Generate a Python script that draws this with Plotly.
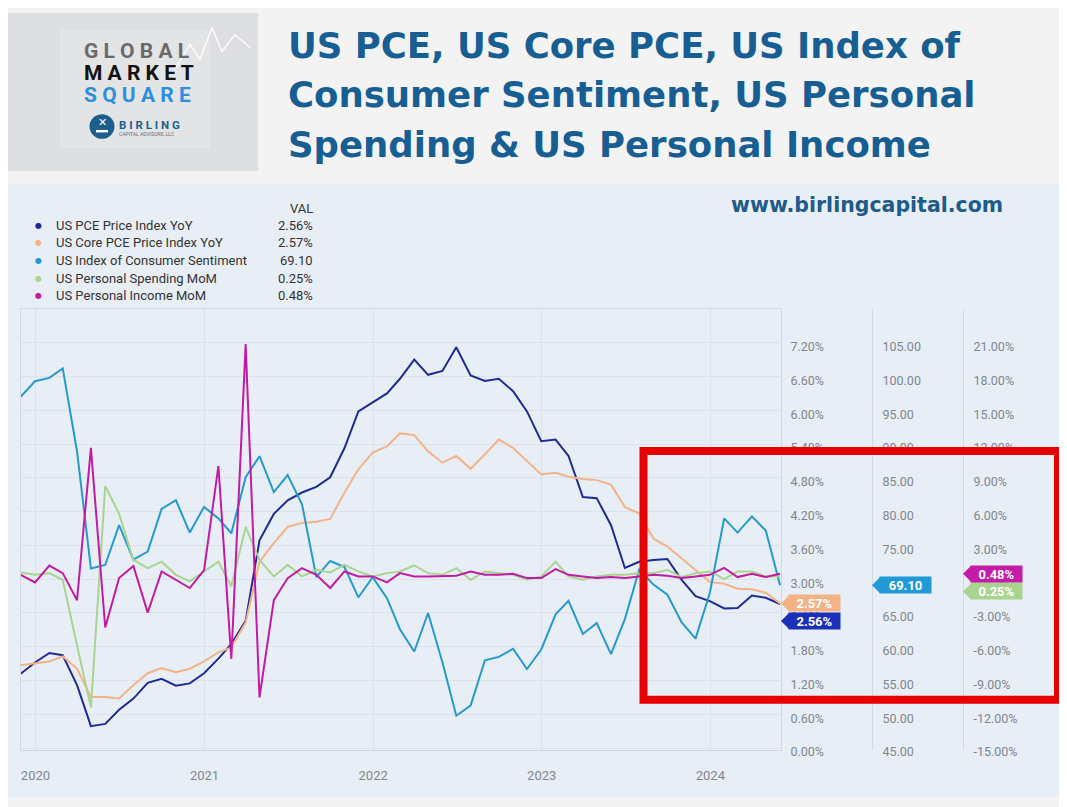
import plotly.graph_objects as go
import pandas as pd

# page is 1067x807; the html body has an 8px margin, so the figure is 8px smaller
OFF = 8
W, H = 1067 - OFF, 807 - OFF

# ---------------- data ----------------
months = pd.date_range("2019-11-30", periods=55, freq=pd.offsets.MonthEnd())

pce_yoy = [1.32, 1.52, 1.69, 1.65, 1.12, 0.39, 0.43, 0.68, 0.88, 1.16,
           1.23, 1.11, 1.15, 1.33, 1.59, 1.85, 2.26, 3.69, 4.16, 4.40,
           4.54, 4.64, 4.81, 5.33, 5.98, 6.14, 6.30, 6.56, 6.90, 6.63,
           6.70, 7.12, 6.62, 6.52, 6.56, 6.34, 5.98, 5.45, 5.48, 5.19,
           4.46, 4.44, 3.96, 3.20, 3.31, 3.34, 3.36, 2.99, 2.70, 2.61,
           2.48, 2.49, 2.71, 2.67, 2.56]

core_pce_yoy = [1.47, 1.50, 1.54, 1.63, 1.41, 0.91, 0.91, 0.88, 1.12, 1.33,
                1.42, 1.35, 1.41, 1.54, 1.70, 1.79, 2.23, 3.31, 3.64, 3.93,
                4.00, 4.02, 4.07, 4.54, 4.95, 5.25, 5.36, 5.59, 5.56, 5.27,
                5.07, 5.19, 4.96, 5.22, 5.48, 5.33, 5.10, 4.86, 4.89, 4.82,
                4.78, 4.76, 4.68, 4.28, 4.17, 3.72, 3.58, 3.37, 3.17, 2.95,
                2.92, 2.83, 2.82, 2.76, 2.57]

sentiment = [97.0, 99.3, 99.8, 101.2, 88.9, 71.6, 72.1, 78.0, 72.9, 74.1,
             80.4, 81.7, 76.9, 80.7, 79.0, 76.8, 85.1, 88.2, 82.9, 85.4,
             81.1, 70.3, 72.7, 71.8, 67.3, 70.3, 67.2, 62.6, 59.3, 65.0,
             57.7, 49.8, 51.3, 58.0, 58.5, 59.7, 56.7, 59.6, 64.8, 66.8,
             61.9, 63.5, 58.9, 64.1, 71.4, 69.2, 67.7, 63.6, 61.2, 68.0,
             79.0, 76.9, 79.3, 77.2, 69.1]

spending_mom = [0.60, 0.39, 0.54, -0.05, -5.90, -11.40, 8.29, 5.81, 1.71, 0.98,
                1.56, 0.39, -0.19, 0.69, 1.56, -0.63, 4.64, 1.71, 0.25, 1.27,
                0.25, 0.83, 0.60, 1.27, 0.69, 0.25, 0.54, 0.69, 1.22, 0.54,
                0.39, 0.98, -0.05, 0.69, 0.54, 0.39, -0.05, 0.25, 1.56, 0.25,
                -0.05, 0.25, 0.39, 0.39, 0.54, 0.54, 0.83, 0.19, 0.54, 0.69,
                0.00, 0.69, 0.69, 0.25, 0.25]

income_mom = [0.39, -0.28, 1.21, 0.54, -1.86, 11.67, -4.29, 0.10, 1.18, -2.97,
              0.69, -0.05, -0.78, 0.80, 10.05, -7.07, 20.88, -10.50, -1.86, 0.10,
              0.98, 0.39, -0.78, 0.69, 0.25, 0.25, -0.28, 0.54, 0.25, 0.25,
              0.25, 0.31, 0.69, 0.39, 0.39, 0.49, 0.10, 0.10, 0.89, 0.39,
              0.25, 0.10, 0.19, 0.10, 0.25, 0.39, 0.31, 0.10, 0.25, 0.39,
              1.00, 0.19, 0.49, 0.19, 0.48]

series_names = ["US PCE Price Index YoY", "US Core PCE Price Index YoY",
                "US Index of Consumer Sentiment", "US Personal Spending MoM",
                "US Personal Income MoM"]
series_colors = ["#1f2b93", "#f4b387", "#2699cf", "#a9d48f", "#c11ba3"]
tag_colors = ["#1c2fb8", "#f4b387", "#1f9ad6", "#a9d48f", "#c41ba8"]
series_axes = ["y", "y", "y2", "y3", "y3"]
series_fmt = ["{:.2f}%", "{:.2f}%", "{:.2f}", "{:.2f}%", "{:.2f}%"]

pct_ticks = [0.0, 0.6, 1.2, 1.8, 2.4, 3.0, 3.6, 4.2, 4.8, 5.4, 6.0, 6.6, 7.2]
pct_labels = ["0.00%", "0.60%", "1.20%", "1.80%", "2.40%", "3.00%", "3.60%",
              "4.20%", "4.80%", "5.40%", "6.00%", "6.60%", "7.20%"]
sent_ticks = [45, 50, 55, 60, 65, 70, 75, 80, 85, 90, 95, 100, 105]
sent_labels = ["45.00", "50.00", "55.00", "60.00", "65.00", "70.00", "75.00",
               "80.00", "85.00", "90.00", "95.00", "100.00", "105.00"]
mom_ticks = [-15, -12, -9, -6, -3, 0, 3, 6, 9, 12, 15, 18, 21]
mom_labels = ["-15.00%", "-12.00%", "-9.00%", "-6.00%", "-3.00%", "0.00%", "3.00%",
              "6.00%", "9.00%", "12.00%", "15.00%", "18.00%", "21.00%"]
year_ticks = ["2020-01-01", "2021-01-01", "2022-01-01", "2023-01-01", "2024-01-01"]
year_labels = ["2020", "2021", "2022", "2023", "2024"]

series_values = [pce_yoy, core_pce_yoy, sentiment, spending_mom, income_mom]


# ---------------- helpers (page pixel -> paper) ----------------
def px(x):
    return (x - OFF) / W


def py(y):
    return 1 - (y - OFF) / H


PLOT_L, PLOT_R, PLOT_T, PLOT_B = 20.7, 781, 313, 759
AX2_X, AX3_X = 872, 963

fig = go.Figure()
for name, vals, col, ax in zip(series_names, series_values, series_colors, series_axes):
    fig.add_trace(go.Scatter(x=months, y=vals, name=name, mode="lines",
                             line=dict(color=col, width=2), yaxis=ax,
                             showlegend=False))

tick_font = dict(family="Roboto", size=12.5, color="#7f868e")
grid_col = "#dce2eb"
sep_col = "#d3d9e2"

fig.update_layout(
    width=W, height=H,
    margin=dict(l=0, r=0, t=0, b=0, pad=0),
    paper_bgcolor="#f3f3f3",
    plot_bgcolor="#e8eef6",
    xaxis=dict(domain=[px(PLOT_L), px(PLOT_R)], type="date",
               range=["2019-11-30", "2024-06-02"],
               tickvals=year_ticks, ticktext=year_labels,
               showgrid=True, gridcolor=grid_col, gridwidth=1,
               showline=True, linecolor=sep_col, linewidth=1, mirror=True,
               ticks="", ticklabelstandoff=14,
               tickfont=dict(family="Roboto", size=13, color="#7f868e"),
               zeroline=False, fixedrange=True),
    yaxis=dict(domain=[py(PLOT_B), py(PLOT_T)], range=[-0.0263, 7.796],
               side="right", anchor="x",
               tickvals=pct_ticks, ticktext=pct_labels, tickfont=tick_font,
               showgrid=True, gridcolor=grid_col, gridwidth=1,
               showline=True, linecolor=sep_col, linewidth=1, mirror=True,
               ticks="", ticklabelstandoff=6, ticklabelshift=4,
               zeroline=False),
    yaxis2=dict(range=[44.781, 109.966], overlaying="y", side="right",
                anchor="free", position=px(AX2_X),
                tickvals=sent_ticks, ticktext=sent_labels, tickfont=tick_font,
                showgrid=False, showline=True, linecolor=sep_col, linewidth=1,
                ticks="", ticklabelstandoff=7, ticklabelshift=4, zeroline=False),
    yaxis3=dict(range=[-15.1315, 23.981], overlaying="y", side="right",
                anchor="free", position=px(AX3_X),
                tickvals=mom_ticks, ticktext=mom_labels, tickfont=tick_font,
                showgrid=False, showline=True, linecolor=sep_col, linewidth=1,
                ticks="", ticklabelstandoff=7, ticklabelshift=4, zeroline=False),
)

shapes = []
annotations = []

# chart panel background
shapes.append(dict(type="rect", xref="paper", yref="paper", layer="below",
                   x0=px(8), x1=px(1065), y0=py(807), y1=py(186.5),
                   fillcolor="#e8eef6", line=dict(width=0)))

# logo photo block
shapes.append(dict(type="rect", xref="paper", yref="paper", layer="below",
                   x0=px(8), x1=px(258), y0=py(173), y1=py(13),
                   fillcolor="#dcdee1", line=dict(width=0)))
shapes.append(dict(type="rect", xref="paper", yref="paper", layer="below",
                   x0=px(60), x1=px(210), y0=py(150), y1=py(30),
                   fillcolor="rgba(255,255,255,0.18)", line=dict(width=0)))
shapes.append(dict(type="path", xref="paper", yref="paper", layer="below",
                   path="M {},{} L {},{} L {},{} L {},{} L {},{} L {},{} L {},{}".format(
                       px(175), py(70), px(190), py(45), px(200), py(60), px(212), py(28),
                       px(222), py(52), px(235), py(35), px(250), py(48)),
                   line=dict(color="rgba(255,255,255,0.9)", width=1.5)))
shapes.append(dict(type="circle", xref="paper", yref="paper",
                   x0=px(89.5), x1=px(114.5), y0=py(140.5), y1=py(115.5),
                   fillcolor="#1c5f8d", line=dict(width=0)))
shapes.append(dict(type="rect", xref="paper", yref="paper",
                   x0=px(96), x1=px(108), y0=py(134), y1=py(131.5),
                   fillcolor="white", line=dict(width=0)))

annotations += [
    dict(text="<b>G L O B A L</b>", x=px(82), y=py(52), xref="paper", yref="paper",
         xanchor="left", yanchor="middle", showarrow=False,
         font=dict(family="Roboto", size=21, color="#6a6a6a")),
    dict(text="<b>M A R K E T</b>", x=px(82), y=py(74), xref="paper", yref="paper",
         xanchor="left", yanchor="middle", showarrow=False,
         font=dict(family="Roboto", size=21, color="#111111")),
    dict(text="<b>S Q U A R E</b>", x=px(82), y=py(96), xref="paper", yref="paper",
         xanchor="left", yanchor="middle", showarrow=False,
         font=dict(family="Roboto", size=21, color="#2d8fdb")),
    dict(text="<b>✕</b>", x=px(102), y=py(124), xref="paper", yref="paper",
         xanchor="center", yanchor="middle", showarrow=False,
         font=dict(family="DejaVu Sans", size=11, color="white")),
    dict(text="<b>B I R L I N G</b>", x=px(117), y=py(126), xref="paper", yref="paper",
         xanchor="left", yanchor="middle", showarrow=False,
         font=dict(family="Roboto", size=11.5, color="#1c5f8d")),
    dict(text="CAPITAL ADVISORS, LLC", x=px(117), y=py(136), xref="paper", yref="paper",
         xanchor="left", yanchor="middle", showarrow=False,
         font=dict(family="Roboto", size=5, color="#6a6a6a")),
]

# title
title_lines = ["US PCE, US Core PCE, US Index of",
               "Consumer Sentiment, US Personal",
               "Spending & US Personal Income"]
for i, line in enumerate(title_lines):
    annotations.append(dict(text="<b>" + line + "</b>", x=px(286), y=py(46 + 50 * i),
                            xref="paper", yref="paper", xanchor="left", yanchor="middle",
                            showarrow=False,
                            font=dict(family="DejaVu Sans", size=35.5, color="#175e93")))

annotations.append(dict(text="<b>www.birlingcapital.com</b>", x=px(867), y=py(208),
                        xref="paper", yref="paper", xanchor="center", yanchor="middle",
                        showarrow=False,
                        font=dict(family="DejaVu Sans", size=20.5, color="#1d5b8b")))

# custom legend with value column
annotations.append(dict(text="VAL", x=px(314.5), y=py(211.5), xref="paper", yref="paper",
                        xanchor="right", yanchor="middle", showarrow=False,
                        font=dict(family="Roboto", size=13, color="#333333")))
for i, (name, vals, col, fmt) in enumerate(zip(series_names, series_values,
                                               series_colors, series_fmt)):
    yy = 228 + 17.9 * i
    annotations.append(dict(text="●", x=px(38), y=py(yy), xref="paper", yref="paper",
                            xanchor="center", yanchor="middle", showarrow=False,
                            font=dict(family="DejaVu Sans", size=8, color=col)))
    annotations.append(dict(text=name, x=px(54), y=py(yy), xref="paper", yref="paper",
                            xanchor="left", yanchor="middle", showarrow=False,
                            font=dict(family="Roboto", size=13, color="#333333")))
    annotations.append(dict(text=fmt.format(vals[-1]), x=px(314.5), y=py(yy),
                            xref="paper", yref="paper", xanchor="right", yanchor="middle",
                            showarrow=False,
                            font=dict(family="Roboto", size=13, color="#333333")))

# last-value tags on the right axes (PCE pushed below Core, Spending below Income)
tag_axis_x = [PLOT_R, PLOT_R, AX2_X, AX3_X, AX3_X]
tag_shift = [-17, 0, 0, -15, 0]
for vals, col, ax, fmt, axx, s in zip(series_values, tag_colors, series_axes,
                                      series_fmt, tag_axis_x, tag_shift):
    v = vals[-1]
    shapes.append(dict(type="path", xref="paper", yref=ax,
                       xsizemode="pixel", ysizemode="pixel",
                       xanchor=px(axx), yanchor=v,
                       path="M 0,{} L 8,{} L 8,{} Z".format(s, s + 8, s - 8),
                       fillcolor=col, line=dict(width=0), layer="above"))
    annotations.append(dict(text="<b>" + fmt.format(v) + "</b>", x=px(axx + 7), y=v,
                            xref="paper", yref=ax, xanchor="left", yanchor="middle",
                            yshift=s, showarrow=False, bgcolor=col,
                            width=47, height=12, borderpad=2, align="center",
                            font=dict(family="Roboto", size=13, color="white")))

# red highlight box
shapes.append(dict(type="rect", xref="paper", yref="paper",
                   x0=px(643.5), x1=px(1058), y0=py(708.5), y1=py(456.5),
                   line=dict(color="#e60000", width=8), fillcolor="rgba(0,0,0,0)",
                   layer="above"))

fig.update_layout(shapes=shapes, annotations=annotations)
fig.write_html("out.html")
